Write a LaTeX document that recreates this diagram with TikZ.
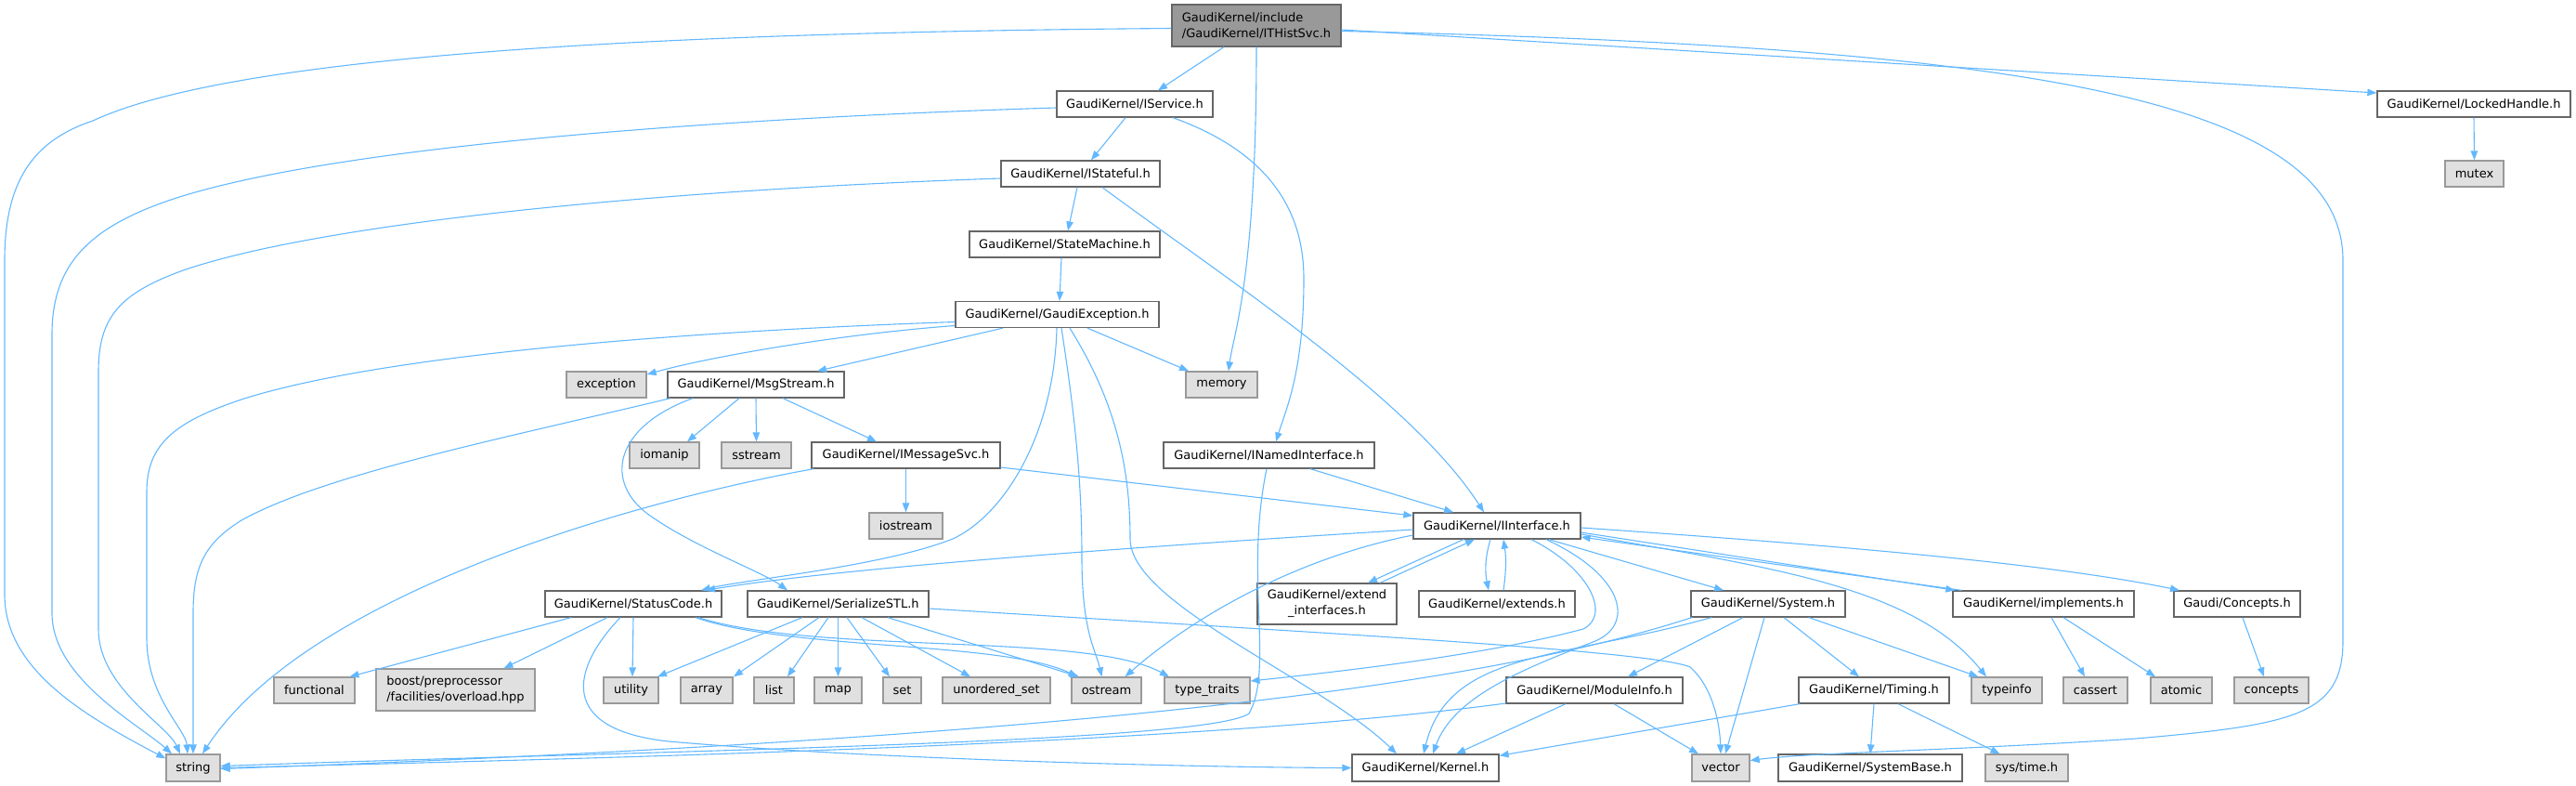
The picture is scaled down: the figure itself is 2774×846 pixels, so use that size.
\documentclass[tikz,border=0pt]{standalone}
\usepackage{fontspec}
\setmainfont{DejaVu Sans}
\usetikzlibrary{arrows.meta}
\definecolor{edgec}{HTML}{63B8FF}
\definecolor{bord}{HTML}{666666}
\definecolor{sysfill}{HTML}{E0E0E0}
\definecolor{sysbord}{HTML}{999999}
\definecolor{rootfill}{HTML}{999999}
\tikzset{
  box/.style={draw=bord, fill=white, line width=1.3pt, minimum height=28pt, inner sep=0pt, font=\fontsize{13}{17}\selectfont},
  sysbox/.style={box, draw=sysbord, fill=sysfill},
  rootbox/.style={box, fill=rootfill, draw=bord},
  e/.style={draw=edgec, line width=1.1pt, -{Triangle[length=10pt,width=7.5pt]}},
}
\begin{document}
\begin{tikzpicture}[x=1pt,y=-1pt]
\useasboundingbox (0,0) rectangle (2774,846);
% nodes
\node[rootbox, minimum width=182pt, minimum height=45pt, align=left] (root) at (1353,27.5) {GaudiKernel/include\\/GaudiKernel/ITHistSvc.h};
\node[box, minimum width=168pt] (isvc) at (1222,112) {GaudiKernel/IService.h};
\node[box, minimum width=171pt] (istat) at (1163.5,187) {GaudiKernel/IStateful.h};
\node[box, minimum width=205pt] (sm) at (1146.5,263) {GaudiKernel/StateMachine.h};
\node[box, minimum width=219pt] (ge) at (1138.5,338.5) {GaudiKernel/GaudiException.h};
\node[box, minimum width=208pt] (lh) at (2664,112) {GaudiKernel/LockedHandle.h};
\node[sysbox, minimum width=63pt] (mutex) at (2664.5,187) {mutex};
\node[sysbox, minimum width=86pt] (exc) at (653,414) {exception};
\node[box, minimum width=190pt] (msg) at (814,414) {GaudiKernel/MsgStream.h};
\node[sysbox, minimum width=77pt] (mem) at (1315.5,414) {memory};
\node[sysbox, minimum width=75pt] (iomanip) at (715.5,490) {iomanip};
\node[sysbox, minimum width=75pt] (sstream) at (814.5,490) {sstream};
\node[box, minimum width=203pt] (imsg) at (975.5,490) {GaudiKernel/IMessageSvc.h};
\node[box, minimum width=227pt] (inamed) at (1366.5,490) {GaudiKernel/INamedInterface.h};
\node[sysbox, minimum width=79pt] (iostream) at (975.5,566) {iostream};
\node[box, minimum width=180pt] (ii) at (1612,566) {GaudiKernel/IInterface.h};
\node[box, minimum width=190pt] (sc) at (682,650) {GaudiKernel/StatusCode.h};
\node[box, minimum width=195pt] (ser) at (902.5,650) {GaudiKernel/SerializeSTL.h};
\node[box, minimum width=150pt, minimum height=44pt, align=center] (extif) at (1429,650) {GaudiKernel/extend\\\_interfaces.h};
\node[box, minimum width=168pt] (ext) at (1612,650) {GaudiKernel/extends.h};
\node[box, minimum width=166pt] (sys) at (1904,650) {GaudiKernel/System.h};
\node[box, minimum width=195pt] (impl) at (2200.5,650) {GaudiKernel/implements.h};
\node[box, minimum width=136pt] (conc) at (2409,650) {Gaudi/Concepts.h};
\node[sysbox, minimum width=87pt] (functional) at (338.5,743) {functional};
\node[sysbox, minimum width=171pt, minimum height=45pt, align=left] (boost) at (490.5,742.5) {boost/preprocessor\\/facilities/overload.hpp};
\node[sysbox, minimum width=59pt] (utility) at (679.5,743) {utility};
\node[sysbox, minimum width=56pt] (array) at (761,743) {array};
\node[sysbox, minimum width=43pt] (list) at (833.5,743) {list};
\node[sysbox, minimum width=51pt] (map) at (902.5,743) {map};
\node[sysbox, minimum width=41pt] (set) at (971.5,743) {set};
\node[sysbox, minimum width=116pt] (uset) at (1073,743) {unordered\_set};
\node[sysbox, minimum width=75pt] (ostream) at (1191.5,743) {ostream};
\node[sysbox, minimum width=92pt] (tt) at (1300,743) {type\_traits};
\node[box, minimum width=190pt] (modinfo) at (1717,743) {GaudiKernel/ModuleInfo.h};
\node[box, minimum width=162pt] (timing) at (2018,743) {GaudiKernel/Timing.h};
\node[sysbox, minimum width=76pt] (typeinfo) at (2161,743) {typeinfo};
\node[sysbox, minimum width=69pt] (cassert) at (2256.5,743) {cassert};
\node[sysbox, minimum width=66pt] (atomic) at (2349,743) {atomic};
\node[sysbox, minimum width=80pt] (concepts) at (2446,743) {concepts};
\node[sysbox, minimum width=58pt, minimum height=29pt] (string) at (208,826.5) {string};
\node[box, minimum width=158pt, minimum height=29pt] (kernel) at (1535,826.5) {GaudiKernel/Kernel.h};
\node[sysbox, minimum width=62pt, minimum height=29pt] (vector) at (1853,826.5) {vector};
\node[box, minimum width=198pt, minimum height=29pt] (sysbase) at (2014,826.5) {GaudiKernel/SystemBase.h};
\node[sysbox, minimum width=89pt, minimum height=29pt] (systime) at (2182.5,826.5) {sys/time.h};
% edges from root
\draw[e] ([xshift=-35pt]root.south) -- ([xshift=25pt]isvc.north);
\draw[e] (root.south) .. controls (1353,300) and (1328,360) .. ([xshift=7.5pt]mem.north);
\draw[e] ([yshift=-4.5pt]root.east) -- ([yshift=12pt]lh.west);
\draw[e] ([yshift=-6pt]root.east) .. controls (2150,50) and (2523,100) .. (2523,280) -- (2523,690) .. controls (2523,770) and (2470,780) .. (2300,795) .. controls (2100,808) and (1950,810) .. ([yshift=8pt]vector.east);
\draw[e] ([yshift=-3pt]root.west) .. controls (700,35) and (250,60) .. (100,130) .. controls (40,150) and (5,190) .. (5,280) -- (5,640) .. controls (5,720) and (90,770) .. ([yshift=-5pt]string.north west);
% IService
\draw[e] ([yshift=-4pt]isvc.west) .. controls (750,128) and (330,160) .. (170,220) .. controls (90,250) and (56,290) .. (56,360) -- (56,660) .. controls (56,730) and (150,780) .. ([xshift=-23pt]string.north);
\draw[e] ([xshift=-10pt]isvc.south) -- ([xshift=11.5pt]istat.north);
\draw[e] ([xshift=41pt]isvc.south) .. controls (1370,165) and (1404,230) .. (1404,300) .. controls (1404,400) and (1385,440) .. ([xshift=7.5pt]inamed.north);
% IStateful
\draw[e] ([yshift=-5pt]istat.west) .. controls (700,205) and (350,240) .. (200,290) .. controls (130,315) and (106,340) .. (106,400) -- (106,677) .. controls (106,740) and (180,780) .. ([xshift=-14pt]string.north);
\draw[e] ([xshift=-3.5pt]istat.south) -- ([xshift=3.5pt]sm.north);
\draw[e] ([xshift=23.5pt]istat.south) .. controls (1320,300) and (1520,430) .. ([xshift=-14pt]ii.north);
% StateMachine
\draw[e] ([xshift=-3.5pt]sm.south) -- ([xshift=2.5pt]ge.north);
% GaudiException
\draw[e] ([yshift=-8pt]ge.west) .. controls (700,358) and (400,385) .. (260,430) .. controls (185,455) and (158,480) .. (158,530) -- (158,687) .. controls (158,750) and (200,785) .. ([xshift=-6pt]string.north);
\draw[e] ([yshift=-12pt]ge.west) .. controls (900,360) and (760,385) .. ([yshift=11pt]exc.east);
\draw[e] ([xshift=-58.5pt]ge.south) -- ([xshift=66pt]msg.north);
\draw[e] ([xshift=32.5pt]ge.south) -- ([xshift=-35.5pt]mem.north);
\draw[e] ([xshift=-0.5pt]ge.south) .. controls (1135,470) and (1080,555) .. (1026,580) .. controls (950,610) and (800,624) .. ([xshift=73pt]sc.north);
\draw[e] ([xshift=4.5pt]ge.south) .. controls (1158,450) and (1165,520) .. (1165,600) .. controls (1165,680) and (1180,700) .. ([xshift=-5pt]ostream.north);
\draw[e] ([xshift=13.5pt]ge.south) .. controls (1200,430) and (1217,500) .. (1217,580) .. controls (1217,650) and (1420,730) .. ([xshift=-31pt]kernel.north);
% MsgStream
\draw[e] ([xshift=-92pt]msg.south) .. controls (550,470) and (350,510) .. (260,560) .. controls (220,585) and (208,610) .. (208,660) -- (string.north);
\draw[e] ([xshift=-68pt]msg.south) .. controls (660,460) and (650,520) .. (700,555) .. controls (750,590) and (820,615) .. ([xshift=-54.5pt]ser.north);
\draw[e] ([xshift=-18pt]msg.south) -- ([xshift=24.5pt]iomanip.north);
\draw[e] (msg.south) -- (sstream.north);
\draw[e] ([xshift=29pt]msg.south) -- ([xshift=-31.5pt]imsg.north);
% IMessageSvc
\draw[e] ([xshift=-99.5pt]imsg.south) .. controls (680,540) and (330,640) .. ([xshift=10pt]string.north);
\draw[e] (imsg.south) -- (iostream.north);
\draw[e] ([yshift=-13pt]imsg.east) -- ([yshift=11pt]ii.west);
% INamedInterface
\draw[e] ([xshift=44.5pt]inamed.south) -- ([xshift=-47pt]ii.north);
\draw[e] ([xshift=-2.5pt]inamed.south) .. controls (1340,620) and (1372,720) .. (1345,768) .. controls (1300,800) and (700,808) .. ([yshift=2pt]string.east);
% IInterface
\draw[e] ([yshift=-4pt]ii.west) .. controls (1200,590) and (900,612) .. ([xshift=78pt]sc.north);
\draw[e] ([yshift=-10pt]ii.west) .. controls (1400,600) and (1290,660) .. ([xshift=20pt]ostream.north);
\draw[e] ([xshift=-36pt]ii.south) -- ([xshift=44pt]extif.north);
\draw[e] ([xshift=57pt]extif.north) -- ([xshift=-24pt]ii.south);
\draw[e] ([xshift=-7pt]ii.south) .. controls (1599,600) and (1599,615) .. ([xshift=-9pt]ext.north);
\draw[e] ([xshift=7pt]ext.north) .. controls (1622,615) and (1622,600) .. ([xshift=7pt]ii.south);
\draw[e] ([xshift=53pt]ii.south) .. controls (1750,620) and (1760,672) .. (1718,690) .. controls (1640,720) and (1565,750) .. ([xshift=8pt]kernel.north);
\draw[e] ([xshift=37pt]ii.south) .. controls (1712,612) and (1735,662) .. (1705,677) .. controls (1600,705) and (1450,722) .. ([yshift=10pt]tt.east);
\draw[e] ([xshift=56pt]ii.south) -- ([xshift=-48pt]sys.north);
\draw[e] ([yshift=-7pt]ii.east) -- ([xshift=3pt]impl.north west);
\draw[e] ([xshift=10pt]impl.north west) -- ([yshift=-12pt]ii.east);
\draw[e] ([yshift=-2pt]ii.east) .. controls (1950,585) and (2200,605) .. ([xshift=-62pt]conc.north);
\draw[e] ([yshift=-9pt]ii.east) .. controls (1900,610) and (2060,630) .. ([xshift=-22pt]typeinfo.north);
% StatusCode
\draw[e] ([xshift=-67pt]sc.south) -- ([xshift=38pt]functional.north);
\draw[e] ([xshift=-28pt]sc.south) -- ([xshift=52pt]boost.north);
\draw[e] (sc.south) -- ([xshift=1.5pt]utility.north);
\draw[e] ([xshift=-14pt]sc.south) .. controls (615,720) and (600,785) .. (720,798) .. controls (950,818) and (1300,826) .. (kernel.west);
\draw[e] ([xshift=67pt]sc.south) .. controls (850,700) and (1080,690) .. ([xshift=-31pt]ostream.north);
\draw[e] ([xshift=70pt]sc.south) .. controls (880,705) and (1170,680) .. ([xshift=-41pt]tt.north);
% SerializeSTL
\draw[e] ([xshift=-38.5pt]ser.south) -- ([xshift=28.5pt]utility.north);
\draw[e] ([xshift=-20.5pt]ser.south) -- ([xshift=29pt]array.north);
\draw[e] ([xshift=-10.5pt]ser.south) -- ([xshift=14.5pt]list.north);
\draw[e] (ser.south) -- (map.north);
\draw[e] ([xshift=9.5pt]ser.south) -- ([xshift=-13.5pt]set.north);
\draw[e] ([xshift=25.5pt]ser.south) -- ([xshift=-28pt]uset.north);
\draw[e] ([xshift=53.5pt]ser.south) -- ([xshift=-29.5pt]ostream.north);
\draw[e] ([yshift=-5pt]ser.east) .. controls (1400,680) and (1780,700) .. (1820,718) .. controls (1845,740) and (1852,780) .. (vector.north);
% System
\draw[e] ([xshift=-82pt]sys.south) .. controls (1650,720) and (1300,790) .. ([yshift=-1pt]string.east);
\draw[e] ([xshift=-61pt]sys.south) .. controls (1680,710) and (1560,700) .. ([xshift=-2pt]kernel.north);
\draw[e] ([xshift=-27pt]sys.south) -- ([xshift=36pt]modinfo.north);
\draw[e] ([xshift=-4pt]sys.south) -- ([xshift=5pt]vector.north);
\draw[e] ([xshift=17pt]sys.south) -- ([xshift=-16pt]timing.north);
\draw[e] ([xshift=44pt]sys.south) -- ([xshift=8pt]typeinfo.north west);
% ModuleInfo
\draw[e] ([yshift=-14pt]modinfo.west) .. controls (1300,800) and (700,815) .. (string.east);
\draw[e] ([xshift=-31pt]modinfo.south) -- ([xshift=33pt]kernel.north);
\draw[e] ([xshift=21pt]modinfo.south) -- ([xshift=-24pt]vector.north);
% Timing
\draw[e] ([xshift=-80pt]timing.south) -- ([yshift=-2pt]kernel.north east);
\draw[e] (timing.south) -- (sysbase.north);
\draw[e] ([xshift=26pt]timing.south) -- ([xshift=-29pt]systime.north);
% implements, Concepts, LockedHandle
\draw[e] ([xshift=8.5pt]impl.south) -- ([xshift=-11.5pt]cassert.north);
\draw[e] ([xshift=21.5pt]impl.south) -- ([xshift=-28pt]atomic.north);
\draw[e] ([xshift=6pt]conc.south) -- ([xshift=-8pt]concepts.north);
\draw[e] (lh.south) -- (mutex.north);
\end{tikzpicture}
\end{document}
